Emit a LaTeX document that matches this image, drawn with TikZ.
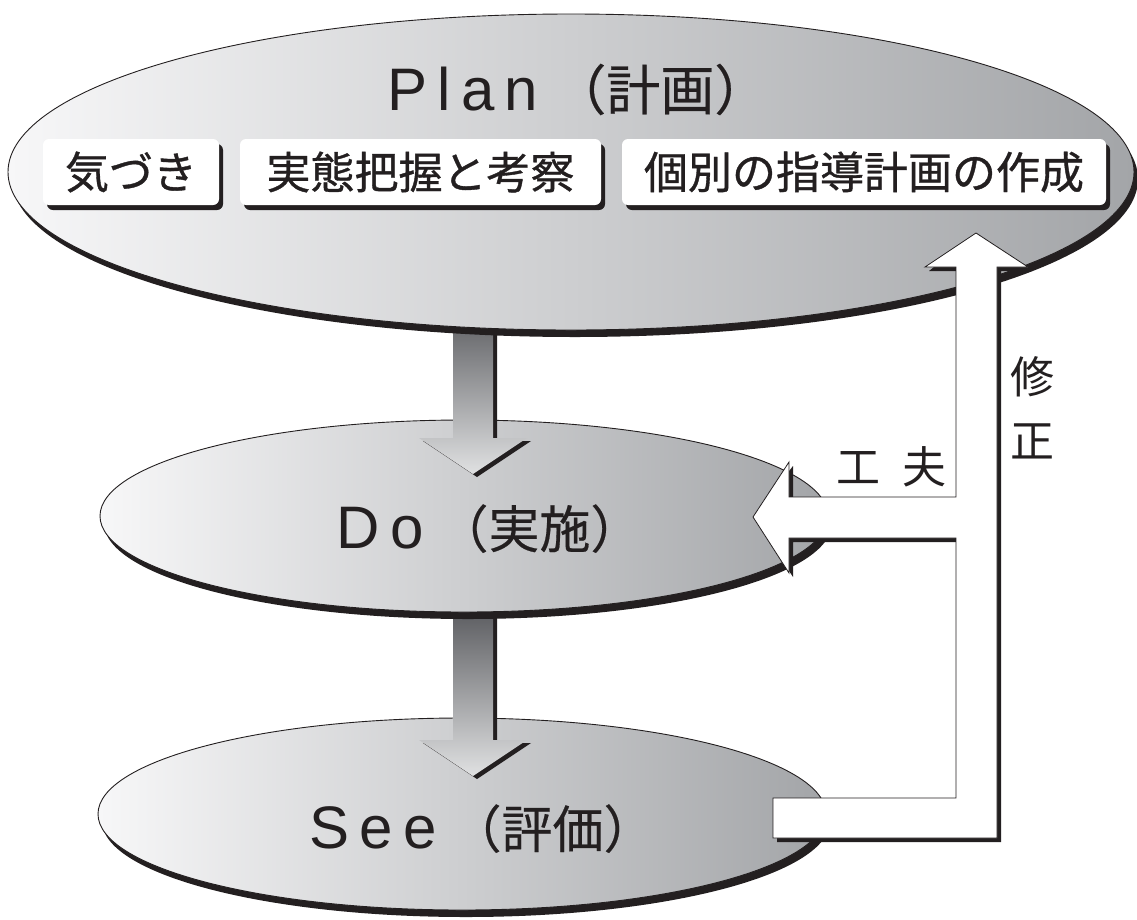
\documentclass[tikz,border=0pt]{standalone}
\usepackage{fontspec}
\setmainfont{Noto Sans CJK JP}
\newfontfamily\latinfont[LetterSpace=17]{Liberation Sans}
\newfontfamily\boxfont[FakeBold=0.8]{Noto Sans CJK JP}
\newfontfamily\titlefont[FakeBold=0.4]{Noto Sans CJK JP}
\usetikzlibrary{shapes.geometric,shadows}
\definecolor{ellL}{RGB}{247,247,248}
\definecolor{ellR}{RGB}{163,165,168}
\definecolor{arrTop}{RGB}{84,85,89}
\definecolor{arrBot}{RGB}{224,225,226}
\definecolor{lineC}{RGB}{35,31,32}
\newcommand{\ttl}[3]{{\fontsize{60}{60}\latinfont #1}\kern 14pt{\fontsize{#3}{#3}\titlefont #2}}
\begin{document}
\begin{tikzpicture}[x=1pt,y=-1pt,
  ell/.style={ellipse, draw=lineC, line width=0.9pt, inner sep=0pt,
    left color=ellL, right color=ellR,
    general shadow={fill=lineC, shadow xshift=4pt, shadow yshift=-7pt}},
  subbox/.style={rectangle, rounded corners=6pt, fill=white, inner sep=0pt,
    minimum height=66pt,
    general shadow={fill=lineC, shadow xshift=4pt, shadow yshift=-5pt},
    font=\fontsize{44}{48}\boxfont, text=lineC},
  title/.style={anchor=base, inner sep=0pt, text=lineC},
  lab/.style={inner sep=0pt, text=lineC, font=\fontsize{44}{64}\selectfont, align=center},
  garrow/.style={top color=arrTop, bottom color=arrBot},
  gshadow/.style={fill=lineC},
  wshape/.style={fill=white, draw=lineC, line width=0.8pt, line join=miter},
]
\useasboundingbox (0,0) rectangle (1137,919);

% See ellipse
\node[ell, minimum width=728pt, minimum height=192pt] (see) at (462,814) {};
% arrow Do -> See
\fill[gshadow, shift={(4,3)}] (453,600) -- (493,600) -- (493,740) -- (527,740) -- (473,776) -- (419,740) -- (453,740) -- cycle;
\shade[garrow] (453,600) -- (493,600) -- (493,740) -- (527,740) -- (473,776) -- (419,740) -- (453,740) -- cycle;
% Do ellipse
\node[ell, minimum width=728pt, minimum height=192pt] (do) at (464,516) {};
% arrow Plan -> Do
\fill[gshadow, shift={(4,3)}] (453,300) -- (493,300) -- (493,438) -- (527,438) -- (473,474) -- (419,438) -- (453,438) -- cycle;
\shade[garrow] (453,300) -- (493,300) -- (493,438) -- (527,438) -- (473,474) -- (419,438) -- (453,438) -- cycle;
% Plan ellipse
\node[ell, minimum width=1126pt, minimum height=316pt] (plan) at (571,172) {};

% sub boxes
\node[subbox, minimum width=176pt] (b1) at (131,172) {気づき};
\node[subbox, minimum width=361pt] (b2) at (420.5,172) {実態把握と考察};
\node[subbox, minimum width=484pt] (b3) at (864,172) {個別の指導計画の作成};

% titles
\node[title] (tplan) at (578,110) {\ttl{Plan}{（計画）}{54}};
\node[title] (tdo) at (489,548) {\ttl{Do}{（実施）}{51}};
\node[title] (tsee) at (482,848) {\ttl{See}{（評価）}{51}};

% white feedback connector
\coordinate (up) at (976,233);
\coordinate (tipdo) at (753,517);
\fill[gshadow, shift={(4,4)}] (up) -- (1028,267) -- (997,267) -- (997,838) -- (773,838) -- (773,798) -- (956,798) -- (956,538) -- (789,538) -- (789,573) -- (tipdo) -- (789,462) -- (789,497) -- (956,497) -- (956,267) -- (925,267) -- cycle;
\path[wshape] (up) -- (1028,267) -- (997,267) -- (997,838) -- (773,838) -- (773,798) -- (956,798) -- (956,538) -- (789,538) -- (789,573) -- (tipdo) -- (789,462) -- (789,497) -- (956,497) -- (956,267) -- (925,267) -- cycle;

% labels
\node[lab] (kufu) at (891,467) {工\hspace{22pt}夫};
\node[lab] (shusei) at (1032,408) {修\\正};
\end{tikzpicture}
\end{document}
